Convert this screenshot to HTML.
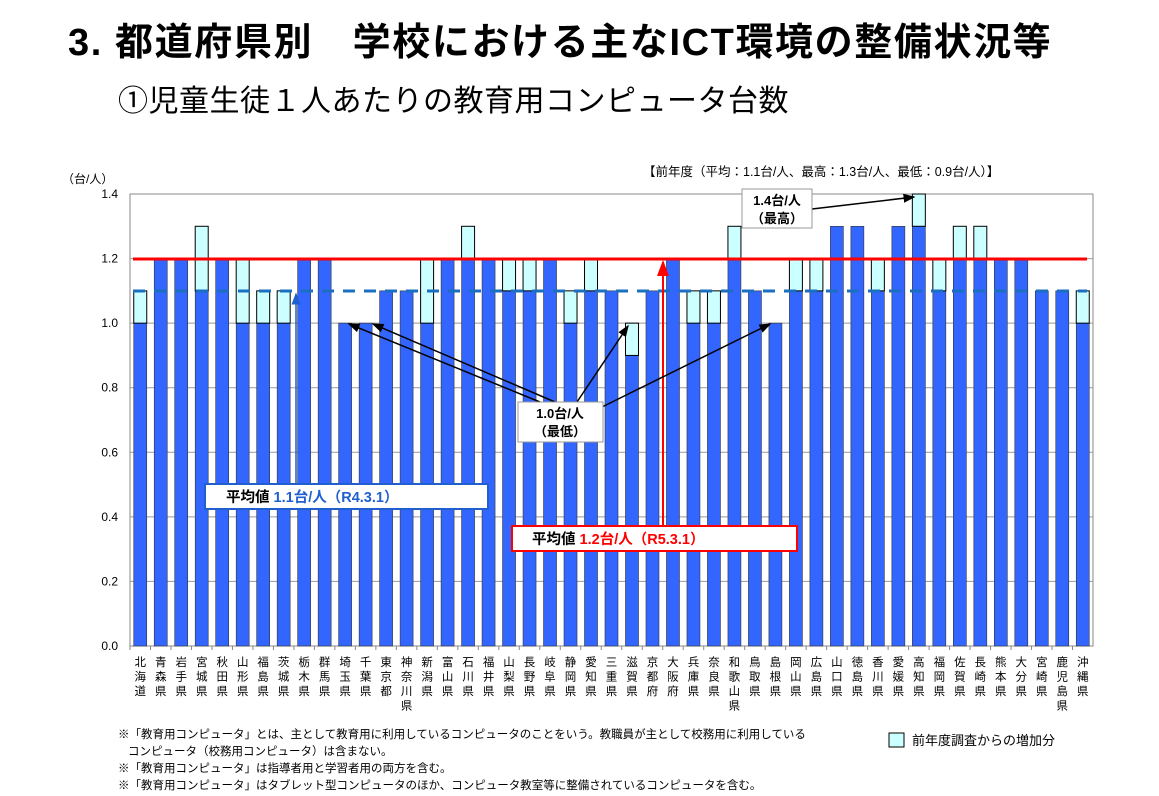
<!DOCTYPE html>
<html><head><meta charset="utf-8">
<style>
body{margin:0;background:#fff;width:1159px;height:791px;overflow:hidden;font-family:"Liberation Sans","Noto Sans CJK JP",sans-serif;}
svg text{font-family:"Liberation Sans","Noto Sans CJK JP",sans-serif;}
</style></head><body>
<svg width="1159" height="791">
<defs>
<marker id="ah" markerWidth="8" markerHeight="8" refX="7" refY="4" orient="auto"><path d="M0,1 L8,4 L0,7 z" fill="#000"/></marker>
<marker id="ahr" markerWidth="8" markerHeight="8" refX="7" refY="4" orient="auto"><path d="M0,1 L8,4 L0,7 z" fill="#f00"/></marker>
<marker id="ahb" markerWidth="8" markerHeight="8" refX="7" refY="4" orient="auto"><path d="M0,1 L8,4 L0,7 z" fill="#1f5fd0"/></marker>
</defs>
<text x="68" y="55" font-size="38" font-weight="bold" letter-spacing="1.6">3. 都道府県別　学校における主なICT環境の整備状況等</text>
<text x="118" y="111" font-size="30" letter-spacing="0.5">①児童生徒１人あたりの教育用コンピュータ台数</text>
<text x="62" y="183" font-size="12">（台/人）</text>
<text x="643" y="176" font-size="12.5">【前年度（平均：1.1台/人、最高：1.3台/人、最低：0.9台/人）】</text>
<rect x="130" y="194" width="963" height="452" fill="none" stroke="#888"/>
<g id="grid"></g>
<g id="bars"></g>
<g id="xlabels"></g>
<line x1="133" y1="259" x2="1087" y2="259" stroke="#f00" stroke-width="3"/>
<line x1="133" y1="291" x2="1087" y2="291" stroke="#1a6fc0" stroke-width="3" stroke-dasharray="12,9"/>
<line x1="296" y1="484" x2="296" y2="294" stroke="#1f5fd0" stroke-width="1.5" marker-end="url(#ahb)"/>
<rect x="205" y="484" width="283" height="25" fill="#fff" stroke="#1f5fd0" stroke-width="2"/>
<text x="226" y="502" font-size="14.5" font-weight="bold">平均値 <tspan fill="#1f5fd0">1.1台/人（R4.3.1）</tspan></text>
<line x1="663" y1="526" x2="663" y2="262" stroke="#f00" stroke-width="2" marker-end="url(#ahr)"/>
<rect x="512" y="526" width="285" height="25" fill="#fff" stroke="#f00" stroke-width="2"/>
<text x="532" y="544" font-size="14.5" font-weight="bold">平均値 <tspan fill="#f00">1.2台/人（R5.3.1）</tspan></text>
<g stroke="#000" stroke-width="1.5">
<line x1="540" y1="402" x2="349" y2="324" marker-end="url(#ah)"/>
<line x1="555" y1="402" x2="373" y2="324" marker-end="url(#ah)"/>
<line x1="577" y1="402" x2="628" y2="326" marker-end="url(#ah)"/>
<line x1="600" y1="408" x2="770" y2="324" marker-end="url(#ah)"/>
<line x1="812" y1="209" x2="914" y2="197" marker-end="url(#ah)"/>
</g>
<rect x="518" y="402" width="85" height="40" fill="#fff" stroke="#999"/>
<text x="560" y="418" font-size="13" font-weight="bold" text-anchor="middle">1.0台/人</text>
<text x="560" y="436" font-size="13" font-weight="bold" text-anchor="middle">（最低）</text>
<rect x="742" y="189" width="70" height="39" fill="#fff" stroke="#999"/>
<text x="777" y="205" font-size="13" font-weight="bold" text-anchor="middle">1.4台/人</text>
<text x="777" y="223" font-size="13" font-weight="bold" text-anchor="middle">（最高）</text>
<g font-size="11.5">
<text x="118" y="738">※「教育用コンピュータ」とは、主として教育用に利用しているコンピュータのことをいう。教職員が主として校務用に利用している</text>
<text x="128" y="755">コンピュータ（校務用コンピュータ）は含まない。</text>
<text x="118" y="772">※「教育用コンピュータ」は指導者用と学習者用の両方を含む。</text>
<text x="118" y="789">※「教育用コンピュータ」はタブレット型コンピュータのほか、コンピュータ教室等に整備されているコンピュータを含む。</text>
</g>
<rect x="889" y="733" width="15" height="14" fill="#ccffff" stroke="#000"/>
<text x="912" y="745" font-size="13">前年度調査からの増加分</text>
</svg>
<script>
const prefectures=["北海道","青森県","岩手県","宮城県","秋田県","山形県","福島県","茨城県","栃木県","群馬県","埼玉県","千葉県","東京都","神奈川県","新潟県","富山県","石川県","福井県","山梨県","長野県","岐阜県","静岡県","愛知県","三重県","滋賀県","京都府","大阪府","兵庫県","奈良県","和歌山県","鳥取県","島根県","岡山県","広島県","山口県","徳島県","香川県","愛媛県","高知県","福岡県","佐賀県","長崎県","熊本県","大分県","宮崎県","鹿児島県","沖縄県"];
const prevYear=[1.0,1.2,1.2,1.1,1.2,1.0,1.0,1.0,1.2,1.2,1.0,1.0,1.1,1.1,1.0,1.2,1.2,1.2,1.1,1.1,1.2,1.0,1.1,1.1,0.9,1.1,1.2,1.0,1.0,1.2,1.1,1.0,1.1,1.1,1.3,1.3,1.1,1.3,1.3,1.1,1.2,1.2,1.2,1.2,1.1,1.1,1.0];
const currentYear=[1.1,1.2,1.2,1.3,1.2,1.2,1.1,1.1,1.2,1.2,1.0,1.0,1.1,1.1,1.2,1.2,1.3,1.2,1.2,1.2,1.2,1.1,1.2,1.1,1.0,1.1,1.2,1.1,1.1,1.3,1.1,1.0,1.2,1.2,1.3,1.3,1.2,1.3,1.4,1.2,1.3,1.3,1.2,1.2,1.1,1.1,1.1];
const yTicks=[0,0.2,0.4,0.6,0.8,1.0,1.2,1.4];
const NS="http://www.w3.org/2000/svg";
const X0=130,X1=1093,Y0=646,Y1=194,YMAX=1.4;
const slot=(X1-X0)/prefectures.length;
function y(v){return Y0-(v/YMAX)*(Y0-Y1);}
function xc(i){return X0+slot*(i+0.5);}
function mk(tag,attrs,parent){const e=document.createElementNS(NS,tag);for(const k in attrs)e.setAttribute(k,attrs[k]);parent.appendChild(e);return e;}
const grid=document.getElementById('grid'),bars=document.getElementById('bars'),xl=document.getElementById('xlabels');
yTicks.forEach(t=>{
  if(t>0&&t<YMAX){const l=mk('line',{x1:X0,x2:X1,y1:y(t),y2:y(t),stroke:'#999','stroke-width':1},grid);
  
  }
  const tx=mk('text',{x:118,y:y(t)+4,'font-size':12,'text-anchor':'end'},grid);
  tx.textContent=t.toFixed(1);
  
  
});
const bw=13;
prefectures.forEach((p,i)=>{
  const cx=xc(i);
  const b=mk('rect',{x:cx-bw/2,y:y(prevYear[i]),width:bw,height:Y0-y(prevYear[i]),fill:'#3366ff',stroke:'#333','stroke-width':0.6},bars);
  
  
  if(currentYear[i]>prevYear[i]){
    const c=mk('rect',{x:cx-bw/2,y:y(currentYear[i]),width:bw,height:y(prevYear[i])-y(currentYear[i]),fill:'#ccffff',stroke:'#000','stroke-width':1},bars);
    
    
  }
  const tk=mk('line',{x1:X0+slot*i,x2:X0+slot*i,y1:Y0,y2:Y0+4,stroke:'#888'},xl);
  
  
  const t=mk('text',{x:cx,'font-size':11.5,'text-anchor':'middle'},xl);
  
  
  [...p].forEach((ch,k)=>{const s=mk('tspan',{x:cx,y:666+k*14.5},t);s.textContent=ch;});
});
</script>
</body></html>
